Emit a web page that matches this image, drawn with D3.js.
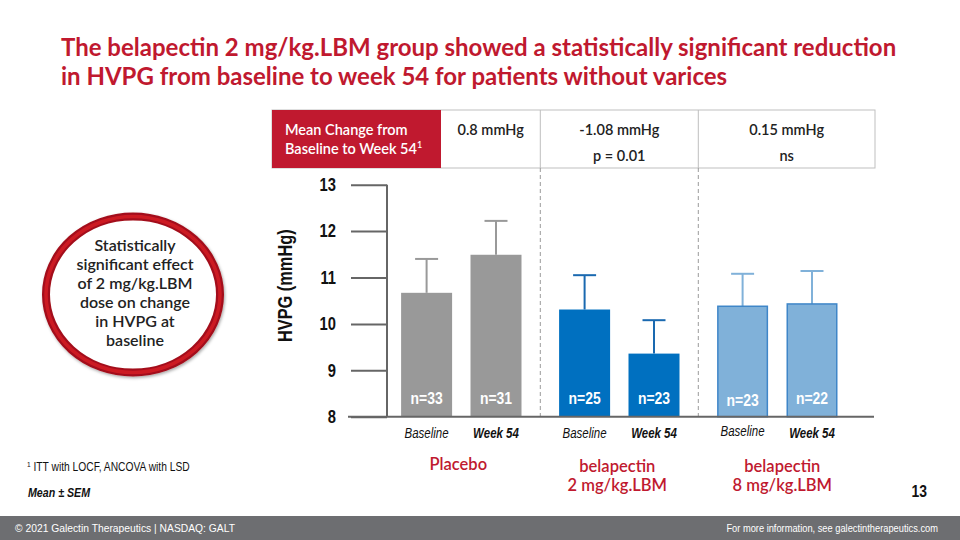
<!DOCTYPE html>
<html>
<head>
<meta charset="utf-8">
<script src="https://cdn.jsdelivr.net/npm/d3@7"></script>
<style>
  html, body { margin: 0; padding: 0; background: #fff; }
  svg { display: block; }
  .cond { font-family: "Liberation Sans", Arial, sans-serif; }
  .lato { font-family: Lato, "Open Sans", sans-serif; }
</style>
</head>
<body>
<svg id="chart" width="960" height="540"></svg>
<script>
// ---- data ----
const groups = ["Placebo", "belapectin 2 mg/kg.LBM", "belapectin 8 mg/kg.LBM"];
const groupLabelLines = [["Placebo"], ["belapectin", "2 mg/kg.LBM"], ["belapectin", "8 mg/kg.LBM"]];
const timepoints = ["Baseline", "Week 54"];
const means = [10.67, 11.49, 10.31, 9.36, 10.38, 10.43];
const sems = [0.73, 0.73, 0.74, 0.72, 0.70, 0.71];
const nValues = [33, 31, 25, 23, 23, 22];
const meanChange = ["0.8 mmHg", "-1.08 mmHg", "0.15 mmHg"];
const pValues = ["", "p = 0.01", "ns"];
const yTicks = [8, 9, 10, 11, 12, 13];
const titleLines = [
  "The belapectin 2 mg/kg.LBM group showed a statistically significant reduction",
  "in HVPG from baseline to week 54 for patients without varices"
];
const circleLines = ["Statistically", "significant effect", "of 2 mg/kg.LBM", "dose on change", "in HVPG at", "baseline"];

// ---- styles ----
const RED = "#c0192f";
const groupFill = ["#999999", "#0070c0", "#80b1d9"];
const groupStroke = ["none", "none", "#3f86c8"];
const errColor = ["#999999", "#1a69b0", "#80b1d9"];
const SQ = 0.82; // narrow-font squeeze

const svg = d3.select("#chart");

// horizontally squeeze text (narrow font look) keeping its anchor x
function squeeze(sel, sx) {
  sel.each(function () {
    const t = d3.select(this);
    const x = +t.attr("x") || 0;
    t.attr("x", x / sx).attr("transform", `scale(${sx},1)`);
  });
}

const bars = means.map((m, i) => ({
  group: groups[Math.floor(i / 2)],
  gi: Math.floor(i / 2),
  time: timepoints[i % 2],
  mean: m,
  sem: sems[i],
  n: nValues[i]
}));

// ---- scales ----
const y = d3.scaleLinear().domain([8, 13]).range([416.7, 184.7]);
const xGroup = d3.scaleBand().domain(groups).range([382.3, 856.3]).padding(0);
const xInner = d3.scalePoint().domain(timepoints).range([44.3, 113.7]);
const barW = 51;
const cx = d => xGroup(d.group) + xInner(d.time);

// ---- title ----
svg.append("g").selectAll("text").data(titleLines).join("text")
  .attr("class", "lato")
  .attr("x", 61).attr("y", (d, i) => 56 + i * 29)
  .attr("fill", RED).attr("font-weight", 700).attr("font-size", 24)
  .text(d => d);

// ---- table ----
const tbl = svg.append("g");
const tTop = 110, tBot = 168;
const colEdges = [272, 441, xGroup(groups[1]), xGroup(groups[2]), 875];
tbl.append("rect").attr("x", colEdges[0]).attr("y", tTop).attr("width", colEdges[4] - colEdges[0]).attr("height", tBot - tTop)
  .attr("fill", "#fff").attr("stroke", "#bfbfbf").attr("stroke-width", 1);
tbl.append("rect").attr("x", colEdges[0]).attr("y", tTop).attr("width", colEdges[1] - colEdges[0]).attr("height", tBot - tTop)
  .attr("fill", RED);
[colEdges[2], colEdges[3]].forEach(xe => {
  tbl.append("line").attr("x1", xe).attr("x2", xe).attr("y1", tTop).attr("y2", tBot).attr("stroke", "#bfbfbf");
});
const hdr = tbl.append("text").attr("class", "lato").attr("fill", "#fff").attr("font-size", 14.5).attr("font-weight", 600);
hdr.append("tspan").attr("x", 285).attr("y", 135).text("Mean Change from");
hdr.append("tspan").attr("x", 285).attr("y", 154).text("Baseline to Week 54");
hdr.append("tspan").attr("font-size", 9).attr("dy", -6).text("1");
groups.forEach((g, i) => {
  const mid = i === 0 ? (colEdges[1] + colEdges[2]) / 2 : (colEdges[i + 1] + colEdges[i + 2]) / 2;
  tbl.append("text").attr("class", "lato").attr("x", mid).attr("y", 135)
    .attr("text-anchor", "middle").attr("font-size", 14.5).attr("font-weight", 600).attr("fill", "#222")
    .text(meanChange[i]);
  if (pValues[i]) {
    tbl.append("text").attr("class", "lato").attr("x", mid).attr("y", 161)
      .attr("text-anchor", "middle").attr("font-size", 14.5).attr("font-weight", 600).attr("fill", "#222")
      .text(pValues[i]);
  }
});

// ---- dashed separators ----
svg.append("g").selectAll("line").data(groups.slice(1)).join("line")
  .attr("x1", d => xGroup(d)).attr("x2", d => xGroup(d))
  .attr("y1", tBot).attr("y2", y(8))
  .attr("stroke", "#9a9a9a").attr("stroke-width", 1).attr("stroke-dasharray", "4,3");

// ---- y axis ----
const axisX = 387;
const yAxis = svg.append("g").attr("transform", `translate(${axisX},0)`)
  .call(d3.axisLeft(y).tickValues(yTicks).tickSize(36).tickPadding(15).tickFormat(d3.format("d")));
yAxis.select(".domain").remove();
yAxis.append("line").attr("x1", 0).attr("x2", 0).attr("y1", y(13)).attr("y2", y(8))
  .attr("stroke", "#666").attr("stroke-width", 2);
yAxis.selectAll(".tick line").attr("stroke", "#666").attr("stroke-width", 2);
yAxis.selectAll(".tick text").attr("class", "cond")
  .attr("font-size", 18).attr("font-weight", 700).attr("fill", "#111")
  .call(squeeze, SQ);

svg.append("text").attr("class", "cond")
  .attr("transform", `translate(292,${(y(13) + y(8)) / 2 - 15}) rotate(-90) scale(${SQ},1)`)
  .attr("text-anchor", "middle").attr("font-size", 20).attr("font-weight", 700).attr("fill", "#111")
  .text("HVPG (mmHg)");

// ---- bars ----
const gBars = svg.append("g");
gBars.selectAll("line.err").data(bars).join("line")
  .attr("x1", cx).attr("x2", cx)
  .attr("y1", d => y(d.mean)).attr("y2", d => y(d.mean + d.sem))
  .attr("stroke", d => errColor[d.gi]).attr("stroke-width", 2);
gBars.selectAll("line.cap").data(bars).join("line")
  .attr("x1", d => cx(d) - 11.5).attr("x2", d => cx(d) + 11.5)
  .attr("y1", d => y(d.mean + d.sem)).attr("y2", d => y(d.mean + d.sem))
  .attr("stroke", d => errColor[d.gi]).attr("stroke-width", 2);
gBars.selectAll("rect").data(bars).join("rect")
  .attr("x", d => cx(d) - barW / 2 + (d.gi === 2 ? 0.75 : 0))
  .attr("width", d => barW - (d.gi === 2 ? 1.5 : 0))
  .attr("y", d => y(d.mean))
  .attr("height", d => y(8) - y(d.mean))
  .attr("fill", d => groupFill[d.gi])
  .attr("stroke", d => groupStroke[d.gi]).attr("stroke-width", 1.5);
gBars.selectAll("text.n").data(bars).join("text")
  .attr("class", "cond")
  .attr("x", cx).attr("y", (d, i) => i === 4 ? 406 : 404)
  .attr("text-anchor", "middle").attr("font-size", 17).attr("font-weight", 700).attr("fill", "#fff")
  .text(d => "n=" + d.n)
  .call(squeeze, SQ);

// x baseline axis
svg.append("line").attr("x1", 348).attr("x2", 874).attr("y1", y(8)).attr("y2", y(8))
  .attr("stroke", "#666").attr("stroke-width", 2);

// x category labels
svg.append("g").selectAll("text").data(bars).join("text")
  .attr("class", "cond")
  .attr("x", cx).attr("y", d => (d.gi === 2 && d.time === "Baseline") ? 436 : 438)
  .attr("text-anchor", "middle").attr("font-size", 14).attr("font-style", "italic")
  .attr("font-weight", d => d.time === "Week 54" ? 700 : 400).attr("fill", "#111")
  .text(d => d.time)
  .call(squeeze, SQ);

// group labels
groups.forEach((g, i) => {
  const mid = xGroup(g) + xGroup.bandwidth() / 2 + (i === 0 ? -3 : i === 2 ? 5 : -2);
  svg.append("g").selectAll("text").data(groupLabelLines[i]).join("text")
    .attr("class", "lato").attr("x", mid).attr("y", (d, j) => (i === 0 ? 470 : 472) + j * 19)
    .attr("text-anchor", "middle").attr("font-size", 16.5).attr("font-weight", 600).attr("fill", RED)
    .text(d => d);
});

// ---- circle callout ----
const defs = svg.append("defs");
const f = defs.append("filter").attr("id", "sh").attr("x", "-20%").attr("y", "-20%").attr("width", "140%").attr("height", "140%");
f.append("feDropShadow").attr("dx", 1).attr("dy", 1.5).attr("stdDeviation", 1.5).attr("flood-color", "#000").attr("flood-opacity", 0.35);
const cg = svg.append("g");
cg.append("ellipse").attr("cx", 133).attr("cy", 294.5).attr("rx", 87).attr("ry", 78)
  .attr("fill", "#fff").attr("stroke", "#a3111a").attr("stroke-width", 8).attr("filter", "url(#sh)");
cg.append("ellipse").attr("cx", 133).attr("cy", 294.5).attr("rx", 87).attr("ry", 78)
  .attr("fill", "none").attr("stroke", "#cc1a22").attr("stroke-width", 3.5);
cg.selectAll("text").data(circleLines).join("text")
  .attr("class", "lato").attr("x", 135).attr("y", (d, i) => 251 + i * 19)
  .attr("text-anchor", "middle").attr("font-size", 16).attr("font-weight", 600).attr("fill", "#222")
  .text(d => d);

// ---- footnotes ----
const fn = svg.append("text").attr("class", "cond").attr("x", 27).attr("y", 471).attr("font-size", 12.5).attr("fill", "#111");
fn.append("tspan").attr("font-size", 8).attr("dy", -4).text("1");
fn.append("tspan").attr("dy", 4).text(" ITT with LOCF, ANCOVA with LSD");
fn.call(squeeze, SQ);
svg.append("text").attr("class", "cond").attr("x", 28).attr("y", 497)
  .attr("font-size", 13).attr("font-weight", 700).attr("font-style", "italic").attr("fill", "#111")
  .text("Mean ± SEM").call(squeeze, SQ);
svg.append("text").attr("class", "cond").attr("x", 927).attr("y", 497).attr("text-anchor", "end")
  .attr("font-size", 17).attr("font-weight", 700).attr("fill", "#111").text("13").call(squeeze, SQ);

// ---- footer ----
svg.append("rect").attr("x", 0).attr("y", 516).attr("width", 960).attr("height", 24).attr("fill", "#6d6e71");
svg.append("text").attr("class", "cond").attr("x", 15).attr("y", 532)
  .attr("font-size", 10.3).attr("fill", "#fff").text("©  2021 Galectin Therapeutics | NASDAQ: GALT");
svg.append("text").attr("class", "cond").attr("x", 938).attr("y", 532).attr("text-anchor", "end")
  .attr("font-size", 10).attr("fill", "#fff").text("For more information, see galectintherapeutics.com").call(squeeze, 0.93);
</script>
</body>
</html>
